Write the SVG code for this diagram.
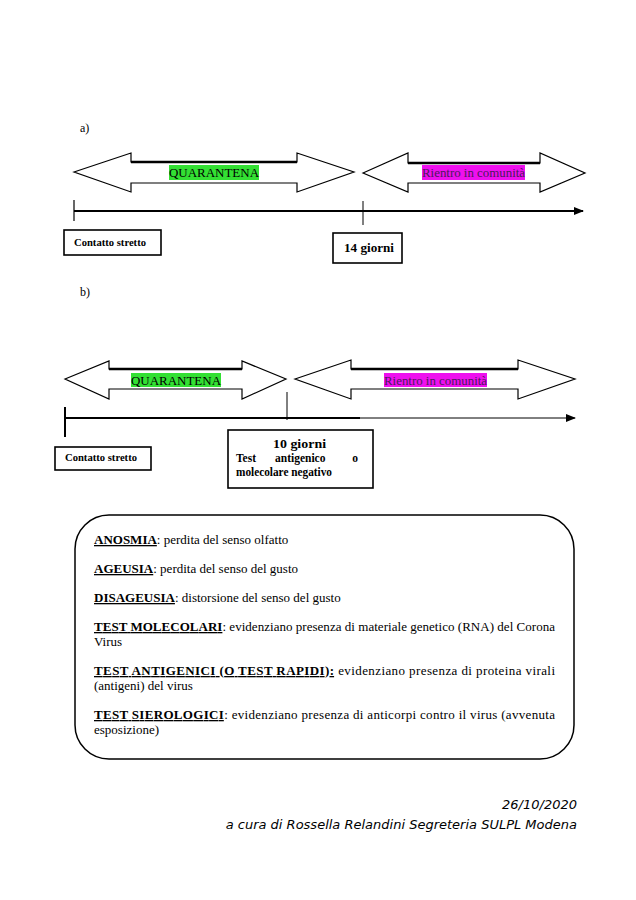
<svg xmlns="http://www.w3.org/2000/svg" width="636" height="900" viewBox="0 0 636 900">
<style>
.t{font-family:"Liberation Serif","Times New Roman",serif;fill:#000}
.b{font-weight:bold}
.arrow{fill:#fff;stroke:#000;stroke-width:1.2;stroke-linejoin:miter}
.shaft{stroke:#000;stroke-width:2.4}
.box{fill:#fff;stroke:#000;stroke-width:1.6}
.tl{stroke:#000;fill:none}
.foot{font-family:"DejaVu Sans",Verdana,sans-serif;font-style:italic;font-size:13px;fill:#000}
.u{text-decoration:underline}
</style>
<defs>
<marker id="ah" markerWidth="10" markerHeight="8" refX="9" refY="4" orient="auto" markerUnits="userSpaceOnUse">
<path d="M0,0 L10,4 L0,8 Z" fill="#000"/>
</marker>
</defs>
<rect width="636" height="900" fill="#fff"/>

<text class="t" x="80" y="132" font-size="12">a)</text>
<text class="t" x="80" y="296" font-size="12">b)</text>

<g id="connectors">
<line class="tl" x1="74" y1="211" x2="583" y2="211" stroke-width="2" marker-end="url(#ah)"/>
<line class="tl" x1="74" y1="200" x2="74" y2="221" stroke-width="1.2"/>
<line class="tl" x1="363" y1="201" x2="363" y2="225" stroke-width="1"/>
<line class="tl" x1="65" y1="418" x2="360" y2="418" stroke-width="2"/>
<line class="tl" x1="360" y1="418" x2="575" y2="418" stroke-width="1" marker-end="url(#ah)"/>
<line class="tl" x1="65" y1="407" x2="65" y2="437" stroke-width="2"/>
<line class="tl" x1="287" y1="392" x2="287" y2="420" stroke-width="1"/>
</g>

<g id="quarantena-a">
<polygon class="arrow" points="74,172 131,153 131,162 297,162 297,153 354,172 297,192 297,183 131,183 131,192"/>
<line class="shaft" x1="131" y1="162" x2="297" y2="162"/>
<rect x="169" y="165" width="90" height="15" fill="#33e033"/>
<text class="t" x="169" y="177" font-size="13" textLength="90" lengthAdjust="spacingAndGlyphs" fill="#222">QUARANTENA</text>
</g>

<g id="rientro-a">
<polygon class="arrow" points="363,173 408,153 408,163 540,163 540,153 585,173 540,192 540,183 408,183 408,192"/>
<line class="shaft" x1="408" y1="163" x2="540" y2="163"/>
<rect x="422" y="165" width="103" height="15" fill="#ee10ee"/>
<text class="t" x="422" y="177" font-size="13" textLength="103" lengthAdjust="spacingAndGlyphs" style="fill:#4a1a5a">Rientro in comunità</text>
</g>

<g id="contatto-a">
<rect class="box" x="64" y="230" width="97" height="25"/>
<text class="t b" x="74" y="246" font-size="10.5" textLength="72" lengthAdjust="spacingAndGlyphs">Contatto stretto</text>
</g>

<g id="giorni-14">
<rect class="box" x="333" y="233" width="69" height="30"/>
<text class="t b" x="344" y="252" font-size="12.5" textLength="50" lengthAdjust="spacingAndGlyphs">14 giorni</text>
</g>

<g id="quarantena-b">
<polygon class="arrow" points="65,379 109,361 109,369 242,369 242,361 286,379 242,399 242,389 109,389 109,399"/>
<line class="shaft" x1="109" y1="369" x2="242" y2="369"/>
<rect x="131" y="373" width="90" height="14" fill="#33e033"/>
<text class="t" x="131" y="385" font-size="13" textLength="90" lengthAdjust="spacingAndGlyphs" fill="#222">QUARANTENA</text>
</g>

<g id="rientro-b">
<polygon class="arrow" points="295,379 351,360 351,369 518,369 518,360 575,379 518,399 518,389 351,389 351,399"/>
<line class="shaft" x1="351" y1="369" x2="518" y2="369"/>
<rect x="384" y="373" width="103" height="14" fill="#ee10ee"/>
<text class="t" x="384" y="385" font-size="13" textLength="103" lengthAdjust="spacingAndGlyphs" style="fill:#4a1a5a">Rientro in comunità</text>
</g>

<g id="contatto-b">
<rect class="box" x="55" y="447" width="96" height="23"/>
<text class="t b" x="65" y="461" font-size="10.5" textLength="72" lengthAdjust="spacingAndGlyphs">Contatto stretto</text>
</g>

<g id="giorni-10">
<rect class="box" x="228" y="430" width="145" height="58"/>
<text class="t b" x="273" y="448" font-size="11.5" textLength="53" lengthAdjust="spacingAndGlyphs">10 giorni</text>
<text class="t b" x="236" y="462" font-size="11.5">Test</text>
<text class="t b" x="275" y="462" font-size="11.5">antigenico</text>
<text class="t b" x="358" y="462" font-size="11.5" text-anchor="end">o</text>
<text class="t b" x="236" y="476" font-size="11.5" textLength="96" lengthAdjust="spacingAndGlyphs">molecolare negativo</text>
</g>

<g id="glossary">
<rect x="75" y="515" width="499" height="244" rx="34" ry="34" fill="#fff" stroke="#000" stroke-width="1.5"/>
<text class="t" x="94" y="544" font-size="13"><tspan class="b u">ANOSMIA</tspan>: perdita del senso olfatto</text>
<text class="t" x="94" y="573" font-size="13"><tspan class="b u">AGEUSIA</tspan>: perdita del senso del gusto</text>
<text class="t" x="94" y="602" font-size="13"><tspan class="b u">DISAGEUSIA</tspan>: distorsione del senso del gusto</text>
<text class="t" x="94" y="631" font-size="13" textLength="461" lengthAdjust="spacing"><tspan class="b u">TEST MOLECOLARI</tspan>: evidenziano presenza di materiale genetico (RNA) del Corona</text>
<text class="t" x="94" y="646" font-size="13">Virus</text>
<text class="t" x="94" y="675" font-size="13" textLength="461" lengthAdjust="spacing"><tspan class="b u">TEST ANTIGENICI (O TEST RAPIDI):</tspan> evidenziano presenza di proteina virali</text>
<text class="t" x="94" y="690" font-size="13">(antigeni) del virus</text>
<text class="t" x="94" y="719" font-size="13" textLength="461" lengthAdjust="spacing"><tspan class="b u">TEST SIEROLOGICI</tspan>: evidenziano presenza di anticorpi contro il virus (avvenuta</text>
<text class="t" x="94" y="734" font-size="13">esposizione)</text>
</g>

<g id="footer">
<text class="foot" x="577" y="809" text-anchor="end">26/10/2020</text>
<text class="foot" x="577" y="829" text-anchor="end">a cura di Rossella Relandini Segreteria SULPL Modena</text>
</g>
</svg>
